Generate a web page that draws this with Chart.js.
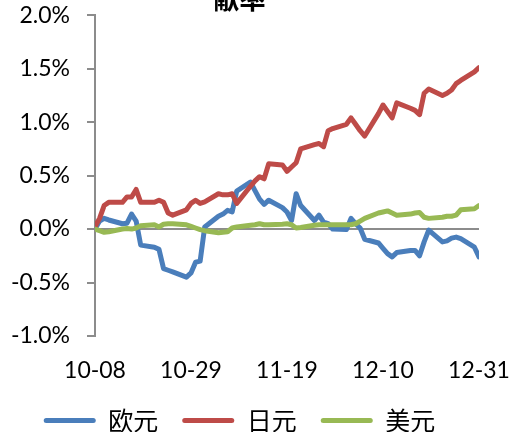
<!DOCTYPE html>
<html>
<head>
<meta charset="utf-8">
<script src="https://cdn.jsdelivr.net/npm/chart.js@4.4.0/dist/chart.umd.min.js"></script>
<style>
  html, body { margin: 0; padding: 0; background: #fff; }
  #frame { position: relative; width: 513px; height: 432px; overflow: hidden; }
  #box { position: absolute; left: 0; top: -17px; width: 513px; height: 460px; }
</style>
</head>
<body>
<div id="frame"><div id="box"><canvas id="chart"></canvas></div></div>
<script>
// trading days (2013), mm-dd
const dates = ['10-08','10-09','10-10','10-11','10-14','10-15','10-16','10-17','10-18','10-21','10-22','10-23','10-24','10-25','10-28','10-29','10-30','10-31',
  '11-01','11-04','11-05','11-06','11-07','11-08','11-11','11-12','11-13','11-14','11-15','11-18','11-19','11-20','11-21','11-22','11-25','11-26','11-27','11-28','11-29',
  '12-02','12-03','12-04','12-05','12-06','12-09','12-10','12-11','12-12','12-13','12-16','12-17','12-18','12-19','12-20','12-23','12-24','12-25','12-26','12-27','12-30','12-31'];

// 欧元 (%)
const eur = [0.00,0.075,0.10,0.085,0.05,0.055,0.14,0.075,-0.15,-0.17,-0.19,-0.37,-0.385,-0.40,-0.45,-0.41,-0.31,-0.30,
  0.02,0.12,0.14,0.175,0.16,0.355,0.44,0.36,0.28,0.23,0.27,0.20,0.16,0.08,0.33,0.22,0.08,0.13,0.065,0.05,0.00,
  -0.005,0.10,0.05,0.01,-0.095,-0.13,-0.18,-0.23,-0.26,-0.22,-0.20,-0.20,-0.25,-0.12,-0.01,-0.12,-0.11,-0.085,-0.075,-0.09,-0.17,-0.26];

// 日元 (%)
const jpy = [0.02,0.10,0.22,0.25,0.25,0.30,0.30,0.37,0.25,0.25,0.27,0.25,0.15,0.13,0.18,0.24,0.27,0.24,
  0.255,0.33,0.32,0.32,0.33,0.24,0.40,0.45,0.49,0.47,0.61,0.60,0.54,0.58,0.62,0.75,0.79,0.80,0.77,0.92,0.94,
  0.98,1.04,0.98,0.92,0.87,1.08,1.16,1.10,1.04,1.18,1.13,1.11,1.07,1.27,1.31,1.25,1.27,1.30,1.36,1.39,1.47,1.51];

// 美元 (%)
const usd = [0.00,-0.015,-0.03,-0.025,0.00,0.005,0.00,0.01,0.03,0.04,0.02,0.045,0.05,0.05,0.04,0.025,0.01,-0.005,
  -0.015,-0.035,-0.03,-0.025,0.01,0.02,0.035,0.04,0.05,0.04,0.04,0.045,0.05,0.04,0.01,0.015,0.035,0.04,0.04,0.04,0.04,
  0.04,0.04,0.05,0.075,0.10,0.15,0.16,0.17,0.15,0.13,0.14,0.15,0.155,0.11,0.10,0.11,0.12,0.12,0.13,0.18,0.19,0.22];

const xTickLabels = ['10-08','10-29','11-19','12-10','12-31'];
const seriesNames = ['欧元','日元','美元'];
const seriesColors = ['#4A7EBB','#BE4B48','#98B954'];
const titleText = '献率';

// days since first date
function dayOf(md) {
  const [m, d] = md.split('-').map(Number);
  return Math.round((Date.UTC(2013, m - 1, d) - Date.UTC(2013, 9, 8)) / 864e5);
}
const toPoints = vals => vals.map((v, i) => ({ x: dayOf(dates[i]), y: v }));

const axisGray = '#8C8C8C';
Chart.defaults.font.family = 'Lato';
Chart.defaults.color = '#000';

const datasets = [eur, jpy, usd].map((vals, i) => ({
  label: seriesNames[i],
  data: toPoints(vals),
  borderColor: seriesColors[i],
  backgroundColor: seriesColors[i],
  borderWidth: 5,
  pointRadius: 0,
  tension: 0,
  borderJoinStyle: 'round',
  borderCapStyle: 'round',
  order: 3 - i
}));

new Chart(document.getElementById('chart'), {
  type: 'line',
  data: { datasets },
  options: {
    responsive: true,
    maintainAspectRatio: false,
    animation: false,
    layout: { padding: { left: 0, right: 34, top: 1, bottom: 0 } },
    plugins: {
      title: {
        display: true,
        text: titleText,
        font: { family: 'Noto Sans CJK SC', size: 26, weight: 'bold' },
        padding: { top: 0, bottom: 0 }
      },
      legend: {
        position: 'bottom',
        labels: {
          font: { family: 'Noto Sans CJK SC', size: 25 },
          boxWidth: 52,
          boxHeight: 5,
          padding: 24,
          useBorderRadius: true,
          generateLabels: chart => Chart.defaults.plugins.legend.labels.generateLabels(chart)
            .sort((a, b) => a.datasetIndex - b.datasetIndex)
            .map(l => ({ ...l, lineWidth: 0, fillStyle: l.strokeStyle, borderRadius: 2.5 }))
        }
      },
      tooltip: { enabled: false }
    },
    scales: {
      x: {
        type: 'linear',
        min: 0,
        max: dayOf(xTickLabels[xTickLabels.length - 1]),
        border: { display: false },
        grid: { display: false, drawTicks: false },
        afterBuildTicks: s => { s.ticks = xTickLabels.map(l => ({ value: dayOf(l) })); },
        ticks: {
          autoSkip: false,
          maxRotation: 0,
          padding: 21,
          font: { size: 23 },
          callback: v => {
            const i = xTickLabels.findIndex(l => dayOf(l) === v);
            return i >= 0 ? xTickLabels[i] : '';
          }
        },
        afterFit: s => { s.height = 48; s.paddingLeft = 0; s.paddingRight = 0; }
      },
      y: {
        min: -1,
        max: 2,
        border: { display: true, color: axisGray, width: 2 },
        grid: {
          drawOnChartArea: true,
          drawTicks: true,
          tickLength: 8,
          tickColor: axisGray,
          tickWidth: 2,
          lineWidth: 2,
          color: c => (c.tick && c.tick.value === 0 ? axisGray : 'rgba(0,0,0,0)')
        },
        ticks: {
          stepSize: 0.5,
          padding: 17,
          font: { size: 23 },
          callback: v => v.toFixed(1) + '%'
        },
        afterFit: s => { s.width = 95; }
      }
    }
  }
});
</script>
</body>
</html>
